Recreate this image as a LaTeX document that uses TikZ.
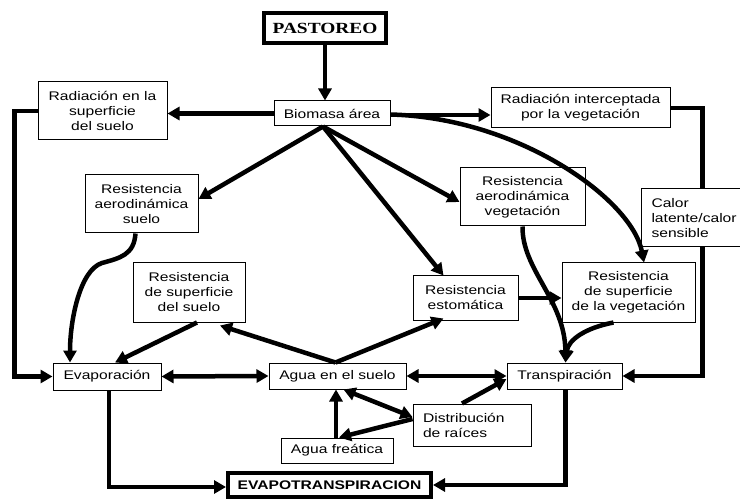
\documentclass[tikz,border=0pt]{standalone}
\usepackage{fontspec}
\setmainfont{Liberation Sans}[FakeStretch=1.25]
\newfontfamily\tnr{Liberation Serif}[FakeStretch=1.25]
\usetikzlibrary{arrows.meta,calc}
\tikzset{
  box/.style={draw, line width=1pt, fill=white, inner sep=0pt, align=center,
    font=\fontsize{12.5}{15}\selectfont},
  thickbox/.style={box, line width=4pt},
  conn/.style={line width=4.5pt, -{Triangle[length=12pt,width=13pt]}},
  dconn/.style={line width=4.5pt, {Triangle[length=12pt,width=13pt]}-{Triangle[length=12pt,width=13pt]}}
}
\begin{document}
\begin{tikzpicture}[x=1pt,y=-1pt]
\useasboundingbox (0,0) rectangle (740,500);
% nodes
\node[thickbox, minimum width=122pt, minimum height=30pt, font=\tnr\bfseries\fontsize{15.5}{18}\selectfont] (past) at (325,28) {PASTOREO};
\node[box, minimum width=116pt, minimum height=25pt] (bio) at (332,113.5) {Biomasa área};
\node[box, minimum width=129pt, minimum height=58pt] (rsup) at (102.5,111) {Radiación en la\\superficie\\del suelo};
\node[box, minimum width=179pt, minimum height=40pt] (rint) at (580.5,108) {Radiación interceptada\\por la vegetación};
\node[box, minimum width=113pt, minimum height=58pt] (ras) at (141.5,204) {Resistencia\\aerodinámica\\suelo};
\node[box, minimum width=125pt, minimum height=58pt] (rav) at (522.5,197) {Resistencia\\aerodinámica\\vegetación};
\node[box, minimum width=112pt, minimum height=59pt] (rss) at (189,292.5) {Resistencia\\de superficie\\del suelo};
\node[box, minimum width=105pt, minimum height=44pt] (rest) at (465.5,298) {Resistencia\\estomática};
\node[box, minimum width=133pt, minimum height=59pt] (rsv) at (628.5,292.5) {Resistencia\\de superficie\\de la vegetación};
\node[box, minimum width=108pt, minimum height=27pt] (evap) at (107,376.5) {Evaporación};
\node[box, minimum width=137pt, minimum height=26pt] (agua) at (337.5,376) {Agua en el suelo};
\node[box, minimum width=115pt, minimum height=26pt] (trans) at (564.5,376) {Transpiración};
\node[box, align=left, text width=98pt, inner xsep=10pt, minimum height=42pt] (dist) at (472,425) {Distribución\\de raíces};
\node[box, minimum width=112pt, minimum height=25pt] (fre) at (337,450.5) {Agua freática};
\node[thickbox, minimum width=203pt, minimum height=24pt, font=\bfseries\fontsize{12.5}{15}\selectfont] (evt) at (329.5,485) {EVAPOTRANSPIRACION};
% connectors
\draw[conn] (past.south) -- (past.south |- bio.north);
\draw[conn] (bio.west) -- (bio.west -| rsup.east);
\draw[conn] ([yshift=-1.5pt]bio.east) -- ([yshift=-1.5pt]bio.east -| rint.west);
\coordinate (bs) at ([xshift=-9pt]bio.south);
\draw[conn] (bs) -- ([yshift=5pt]ras.east);
\draw[conn] (bs) -- ([xshift=-22pt]rest.north);
\draw[conn] (bs) -- ([yshift=-5pt]rav.west);
\draw[conn] ([xshift=-6pt]ras.south) .. controls (134,255) and (120,258) .. (102,263) .. controls (80,270) and (70,320) .. ([xshift=-37pt]evap.north);
\coordinate (at) at ([xshift=-2pt]agua.north);
\draw[conn] (at) -- ([xshift=31pt,yshift=-3pt]rss.south);
\draw[conn] (at) -- ([xshift=-22pt,yshift=2pt]rest.south);
\draw[conn] ([xshift=8pt]rss.south) -- ([xshift=8pt]evap.north);
\draw[conn] (rsup.west) -- ++(-23,0) |- (evap.west);
\draw[conn] (rint.east) -- ++(32,0) |- (trans.east);
\draw[dconn] (evap.east) -- (agua.west);
\draw[dconn] (agua.east) -- (trans.west);
\draw[conn] ([xshift=-10pt]dist.north) -- ([yshift=-3pt]trans.west);
\draw[conn] ([xshift=-1pt]fre.north) -- ([xshift=-1pt]fre.north |- agua.south);
\draw[dconn] ([xshift=6pt]agua.south) -- ([yshift=8pt]dist.west);
\draw[conn] ([yshift=6pt]dist.west) -- ([xshift=2pt]fre.north);
\draw[conn] (rest.east) -- (rest.east -| rsv.west);
\draw[conn] (rav.south) .. controls (522,270) and (565,300) .. ([xshift=1pt]trans.north);
\draw[conn] ([xshift=-15pt]rsv.south) .. controls (585,328) and (568,340) .. ([xshift=1pt]trans.north);
\draw[conn] ([xshift=2pt]evap.south) |- ([yshift=-2pt]evt.west);
\draw[conn] ([xshift=1pt]trans.south) |- (evt.east);
% calor node on top of the vertical line
\node[box, anchor=west, align=left, text width=100pt, inner xsep=10pt, minimum height=58pt] (calor) at (641,218) {Calor\\latente/calor\\sensible};
\draw[conn] ([yshift=-1pt]bio.east) .. controls (520,118) and (632,200) .. ([xshift=15.5pt]rsv.north);
\end{tikzpicture}
\end{document}
